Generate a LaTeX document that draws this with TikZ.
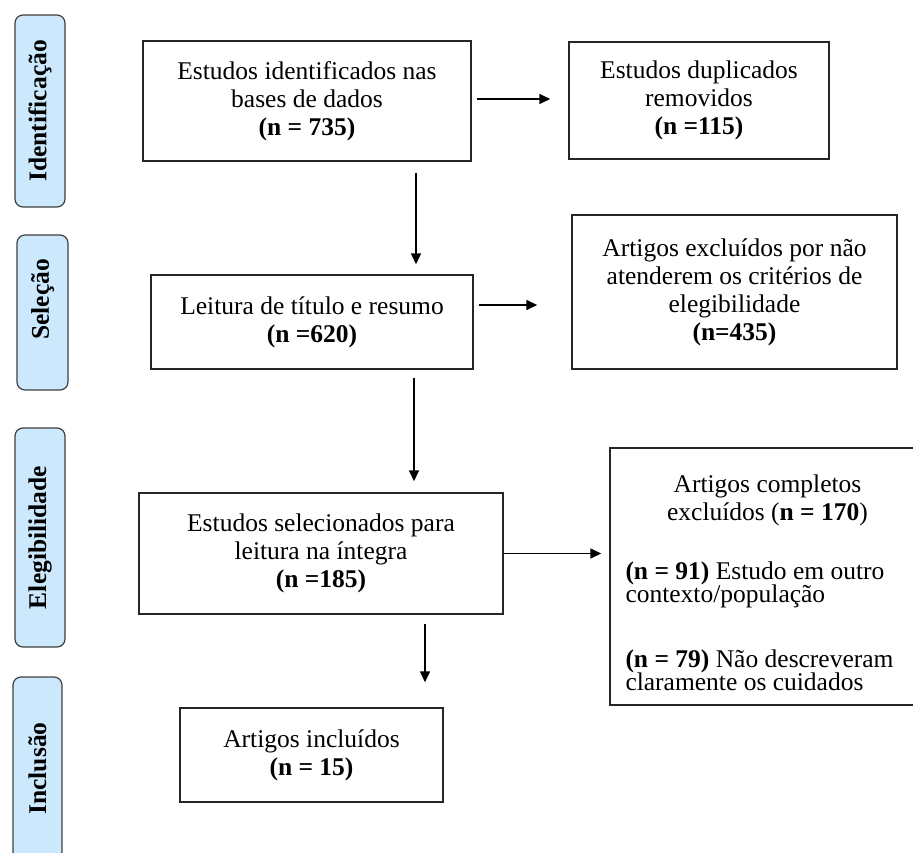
\documentclass[tikz,border=0pt]{standalone}
\usepackage{fontspec}
\setmainfont{Liberation Serif}
\usetikzlibrary{arrows.meta}
\definecolor{azulclaro}{RGB}{204,232,252}
\tikzset{
  etapa/.style={draw=black!75, fill=azulclaro, rounded corners=8pt, line width=1.2pt,
    rotate=90, inner sep=0pt, font=\fontsize{25.5}{28}\selectfont\bfseries},
  caixa/.style={draw=black!85, line width=1.4pt, align=center, inner sep=0pt,
    font=\fontsize{25.5}{28}\selectfont},
  seta/.style={->, line width=1.4pt}
}
\begin{document}
\begin{tikzpicture}[x=1pt,y=-1pt,>={Triangle[length=11pt,width=10pt]}]
  \useasboundingbox (0,0) rectangle (913,852);
  % 段階ラベル
  \node[etapa, minimum width=192pt, minimum height=50pt] (ident) at (40,111) {Identificação};
  \node[etapa, minimum width=155pt, minimum height=51pt] (selec) at (42.5,312.5) {\hspace{26pt}Seleção};
  \node[etapa, minimum width=219pt, minimum height=50pt] (eleg) at (40,537.5) {Elegibilidade};
  \node[etapa, minimum width=183pt, minimum height=49pt] (incl) at (37.5,768.5) {Inclusão};

  % ボックス
  \node[caixa, minimum width=328pt, minimum height=120pt] (b1) at (307,101)
    {Estudos identificados nas\\bases de dados\\\textbf{(n = 735)}};
  \node[caixa, minimum width=260pt, minimum height=117pt] (b2) at (699,100.5)
    {Estudos duplicados\\removidos\\\textbf{(n =115)}};
  \node[caixa, minimum width=322pt, minimum height=94pt] (b3) at (312,322)
    {Leitura de título e resumo\\\textbf{(n =620)}};
  \node[caixa, minimum width=325pt, minimum height=154pt] (b4) at (734.5,292)
    {Artigos excluídos por não\\atenderem os critérios de\\elegibilidade\\\textbf{(n=435)}};
  \node[caixa, minimum width=364pt, minimum height=121pt] (b5) at (321,553.5)
    {Estudos selecionados para\\leitura na íntegra\\\textbf{(n =185)}};
  \node[caixa, minimum width=315pt, minimum height=257pt, text width=284pt, inner xsep=15.5pt,
    align=none] (b6) at (767.5,576.5)
    {\parindent=0pt\lineskiplimit=-100pt
     {\centering\rule{0pt}{30pt}Artigos completos\\excluídos (\textbf{n = 170})\par}
     \vspace{36pt}
     {\raggedright\fontsize{25.5}{23}\selectfont \textbf{(n = 91)} Estudo em outro\\contexto/população\par}
     \vspace{42.6pt}
     {\raggedright\fontsize{25.5}{23}\selectfont \textbf{(n = 79)} Não descreveram\\claramente os cuidados\par}};
  \node[caixa, minimum width=263pt, minimum height=94pt] (b7) at (311.5,755)
    {Artigos incluídos\\\textbf{(n = 15)}};

  % 矢印
  \coordinate (v1) at (416,0);
  \coordinate (v2) at (414,0);
  \coordinate (v3) at (425,0);
  \coordinate (h1) at (0,99);
  \coordinate (h2) at (0,305);
  \draw[seta, shorten <=5pt, shorten >=18pt] (b1.east |- h1) -- (b2.west |- h1);
  \draw[seta, shorten <=11pt, shorten >=10pt] (b1.south -| v1) -- (b3.north -| v1);
  \draw[seta, shorten <=5pt, shorten >=34pt] (b3.east |- h2) -- (b4.west |- h2);
  \draw[seta, shorten <=8pt, shorten >=11pt] (b3.south -| v2) -- (b5.north -| v2);
  \draw[seta, shorten >=8pt] (b5.east) -- (b6.west |- b5.east);
  \draw[seta, shorten <=9pt, shorten >=25pt] (b5.south -| v3) -- (b7.north -| v3);
\end{tikzpicture}
\end{document}
